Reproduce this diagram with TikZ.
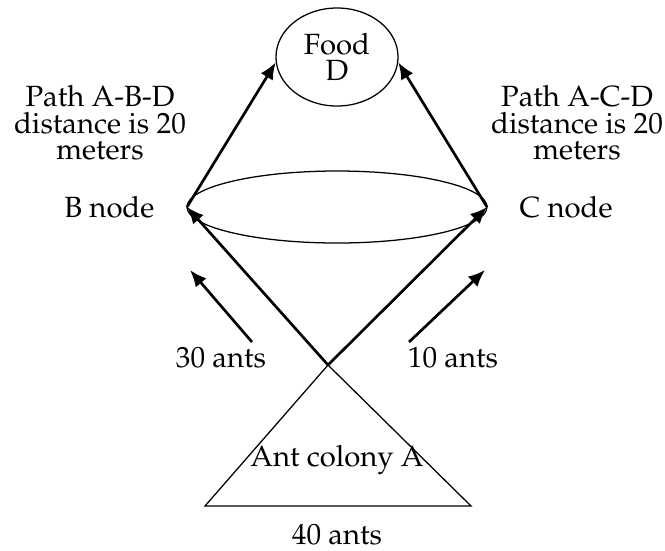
\documentclass[tikz,border=0pt]{standalone}
\usepackage[T1]{fontenc}
\usepackage{mathpazo}
\usetikzlibrary{shapes.geometric, arrows.meta, positioning}

\tikzset{
	flecha/.style={-{Latex[length=6pt, width=5pt]}, line width=0.95pt},
	rotulo/.style={font=\fontsize{10.4}{9.4}\selectfont, align=center, inner sep=0pt},
}

\begin{document}
\begin{tikzpicture}[x=0.0125cm, y=-0.0125cm, line width=0.45pt]
	\useasboundingbox (0,0) rectangle (665,550);
	
	%% Comida D
	\node [draw, ellipse, minimum width=1.525cm, minimum height=1.225cm, rotulo] (food) at (337,57) {Food\\D};
	
	%% Elipse entre B e C
	\draw (337,207) ellipse [x radius=150, y radius=36];
	\coordinate (B) at (187,207);
	\coordinate (C) at (487,207);
	\node [rotulo, left=0.4cm of B] (Bnode) {B node};
	\node [rotulo, right=0.4cm of C] (Cnode) {C node};
	
	%% Formigueiro A
	\coordinate (A) at (328,365);
	\coordinate (A1) at (205,506);
	\coordinate (A2) at (471,506);
	\draw (A) -- (A1) -- (A2) -- cycle;
	\node [rotulo] (colony) at (337,460) {Ant colony A};
	\node [rotulo] (ants40) at (337,535) {40 ants};
	
	%% Caminhos
	\draw [flecha] (A) -- (B);
	\draw [flecha] (A) -- (C);
	\draw [flecha] (B) -- (food.185);
	\draw [flecha] (C) -- (food.-5);
	
	%% Setas das formigas
	\coordinate (s1) at (252,342);
	\coordinate (s2) at (409,342);
	\draw [flecha] (s1) -- (190,270);
	\draw [flecha] (s2) -- (485,270);
	\node [rotulo] (ants30) at (221,358) {30 ants};
	\node [rotulo] (ants10) at (453,358) {10 ants};
	
	%% Distancias
	\node [rotulo] (pathB) at (100,123) {Path A-B-D\\distance is 20\\meters};
	\node [rotulo] (pathC) at (577,123) {Path A-C-D\\distance is 20\\meters};
	
\end{tikzpicture}
\end{document}
